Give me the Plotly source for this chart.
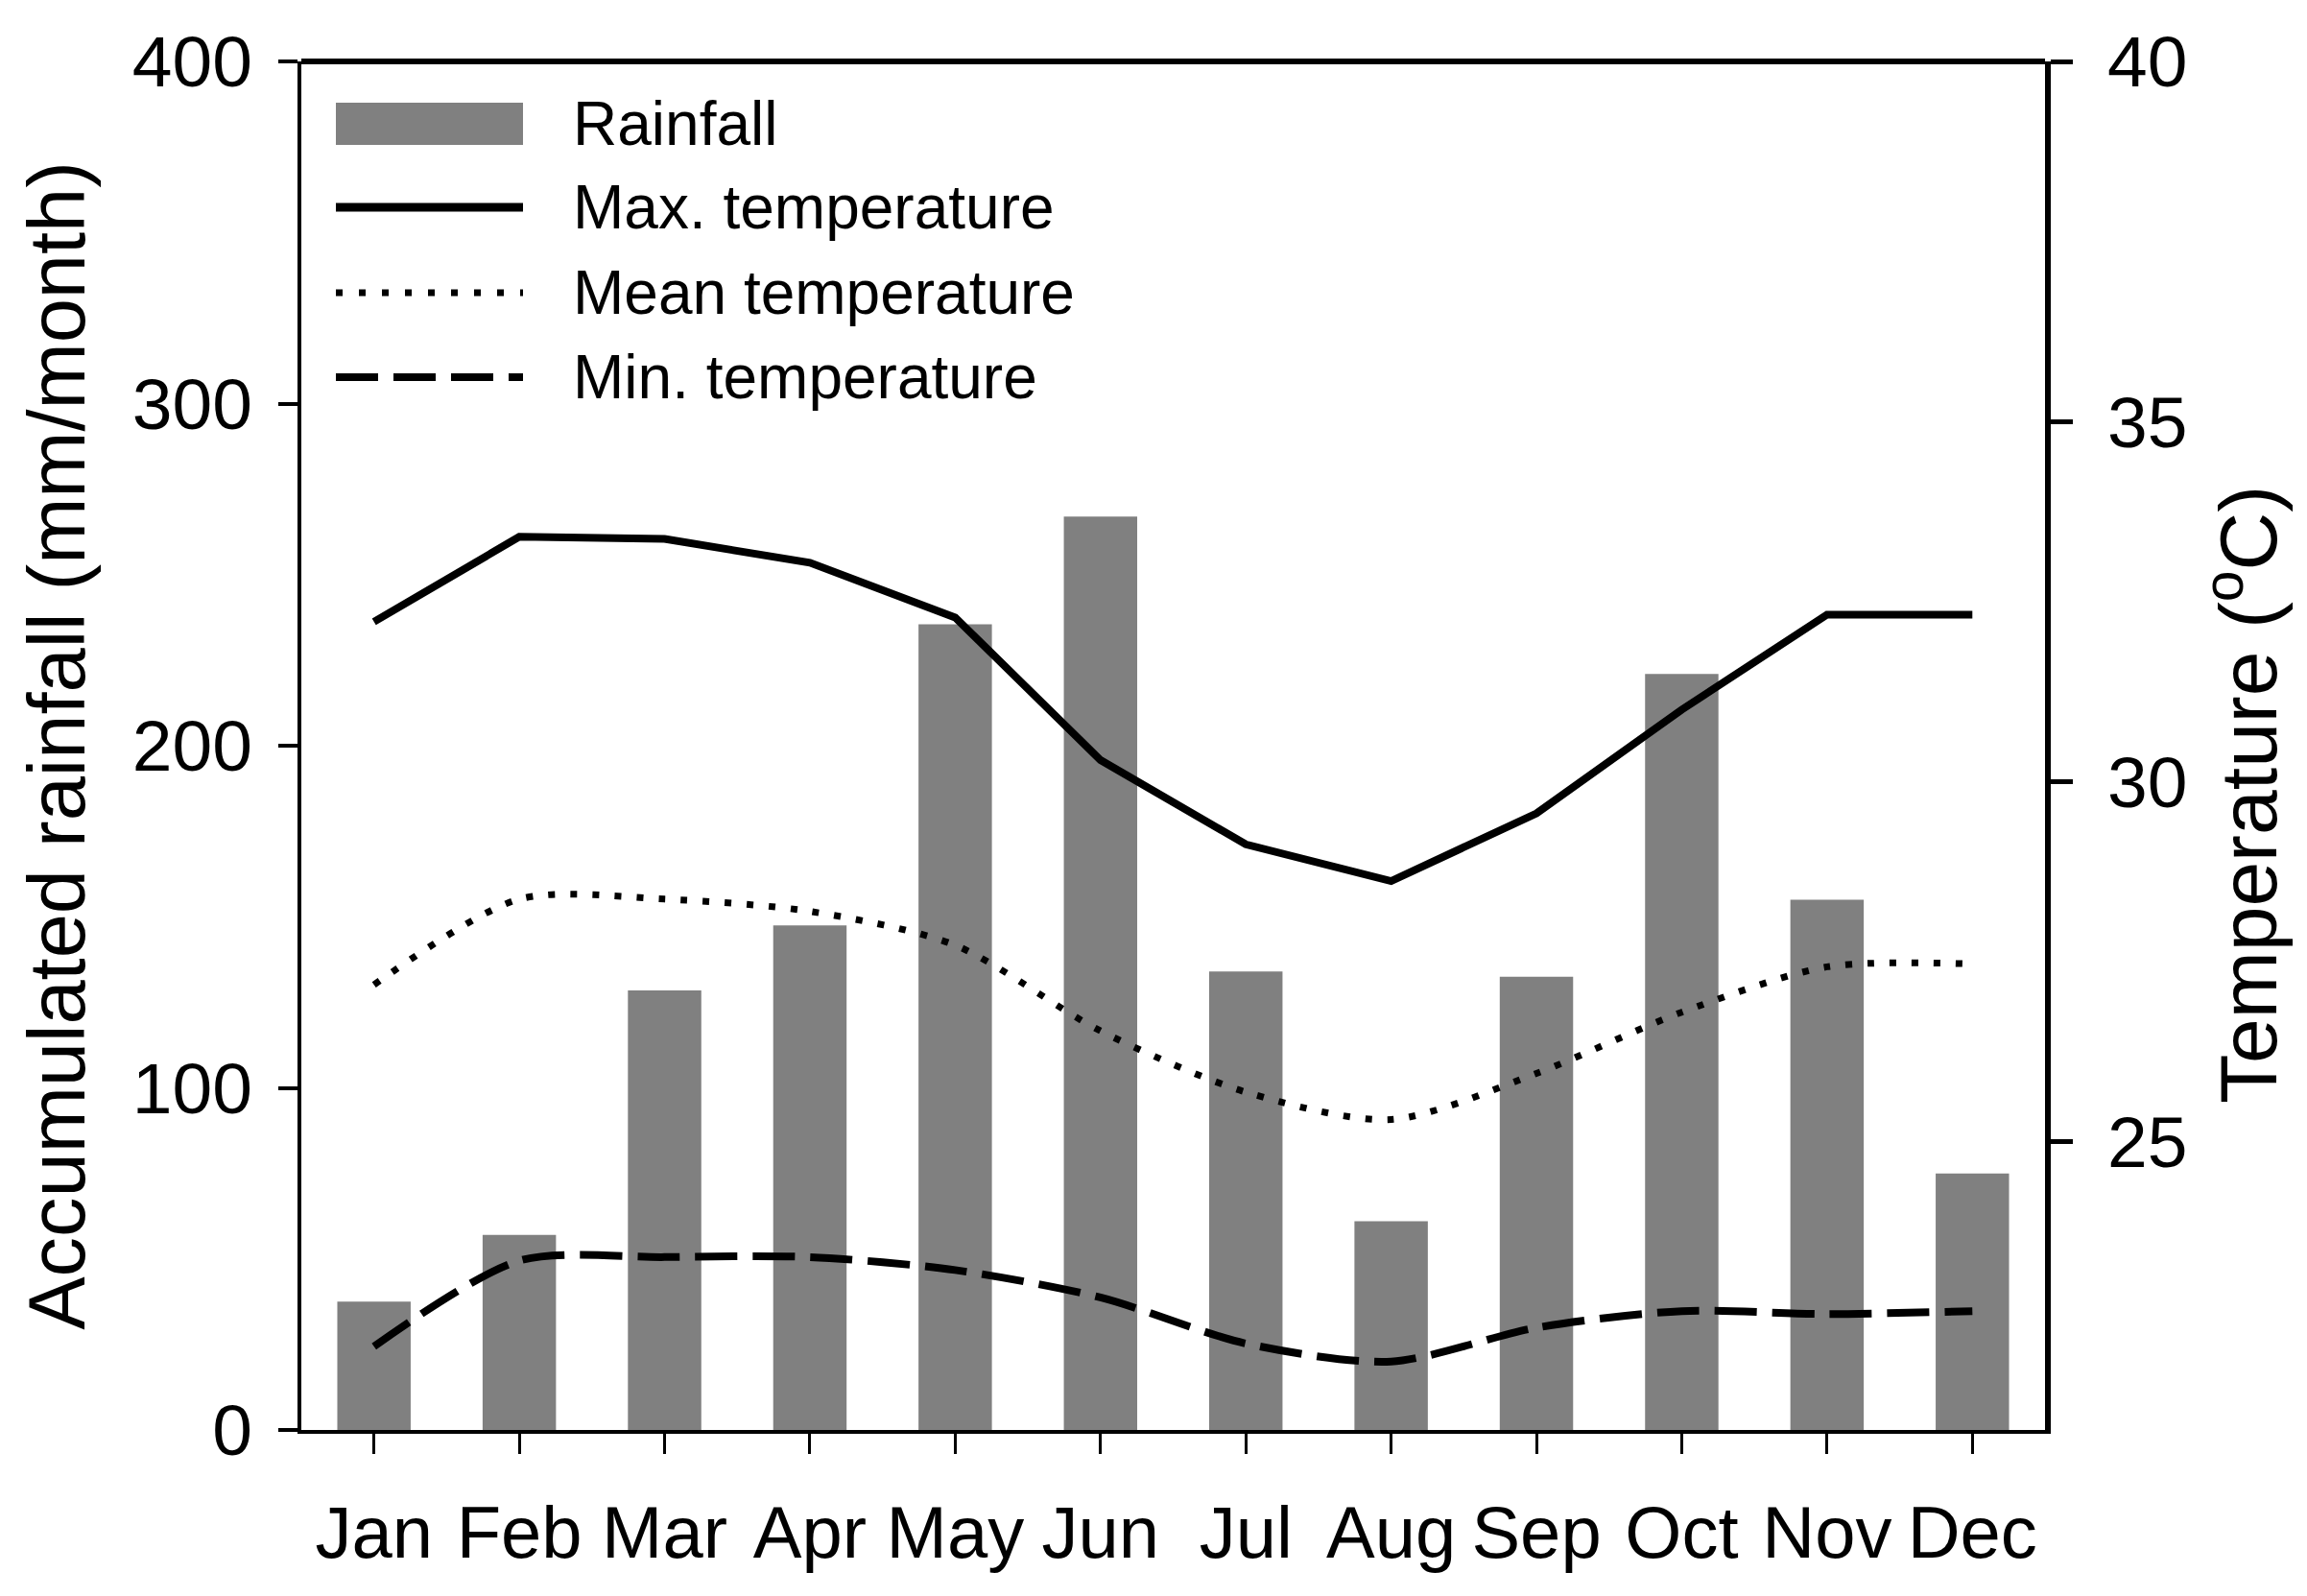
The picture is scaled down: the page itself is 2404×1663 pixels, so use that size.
import plotly.graph_objects as go

months = ["Jan", "Feb", "Mar", "Apr", "May", "Jun", "Jul", "Aug", "Sep", "Oct", "Nov", "Dec"]
rainfall = [37.5, 57, 128.5, 147.5, 235.5, 267, 134, 61, 132.5, 221, 155, 75]
max_temp = [32.22, 33.40, 33.37, 33.04, 32.28, 30.30, 29.13, 28.62, 29.56, 31.0, 32.32, 32.32]
mean_temp = [27.18, 28.37, 28.37, 28.20, 27.73, 26.54, 25.69, 25.31, 25.95, 26.8, 27.43, 27.47]
min_temp = [22.16, 23.35, 23.40, 23.40, 23.22, 22.84, 22.20, 21.95, 22.42, 22.65, 22.61, 22.65]

legend_labels = ["Rainfall", "Max. temperature", "Mean temperature", "Min. temperature"]
y_title = "Accumulated rainfall (mm/month)"
y2_title = "Temperature (<sup>o</sup>C)"

# the page body has an 8px margin, so the figure is drawn 8px smaller
W, H = 2388, 1647
L, T = 306, 56
PW, PH = 1817, 1426
R, B = W - L - PW, H - T - PH

FONT = "Liberation Sans, Arial, sans-serif"
GRAY = "#808080"

MAX_W, MEAN_W, MIN_W = 8, 7, 8
MEAN_DASH, MIN_DASH = "7px,16px", "44px,16px"


def px_x(x):
    return (x - L) / PW


def px_y(y):
    return (T + PH - y) / PH


fig = go.Figure()

fig.add_trace(go.Bar(x=months, y=rainfall, name=legend_labels[0], marker=dict(color=GRAY, line=dict(width=0)),
                     width=0.505, yaxis="y", showlegend=False))
fig.add_trace(go.Scatter(x=months, y=max_temp, name=legend_labels[1], mode="lines",
                         line=dict(color="black", width=MAX_W), yaxis="y2", showlegend=False))
fig.add_trace(go.Scatter(x=months, y=mean_temp, name=legend_labels[2], mode="lines",
                         line=dict(color="black", width=MEAN_W, dash=MEAN_DASH, shape="spline", smoothing=0.8),
                         yaxis="y2", showlegend=False))
fig.add_trace(go.Scatter(x=months, y=min_temp, name=legend_labels[3], mode="lines",
                         line=dict(color="black", width=MIN_W, dash=MIN_DASH, shape="spline", smoothing=0.8),
                         yaxis="y2", showlegend=False))

# manual legend (swatches + labels) in the top-left corner of the plot area
shapes = []
annotations = []
sw_x0, sw_x1, txt_x = 342, 537, 587
rows = [121, 208, 297, 385]
shapes.append(dict(type="rect", xref="paper", yref="paper", x0=px_x(sw_x0), x1=px_x(sw_x1),
                   y0=px_y(rows[0] + 22), y1=px_y(rows[0] - 22), fillcolor=GRAY, line=dict(width=0)))
dashes = ["solid", "7px,17px", "44px,16px"]
widths = [9, MEAN_W, MIN_W]
for i in range(1, 4):
    shapes.append(dict(type="line", xref="paper", yref="paper", x0=px_x(sw_x0), x1=px_x(sw_x1),
                       y0=px_y(rows[i]), y1=px_y(rows[i]),
                       line=dict(color="black", width=widths[i - 1], dash=dashes[i - 1])))
# thicker top frame line, as in the reference
shapes.append(dict(type="line", xref="paper", yref="paper", x0=0, x1=1, y0=1, y1=1,
                   line=dict(color="black", width=6)))
for i, lab in enumerate(legend_labels):
    annotations.append(dict(xref="paper", yref="paper", x=px_x(txt_x), y=px_y(rows[i]), text=lab,
                            showarrow=False, xanchor="left", yanchor="middle",
                            font=dict(family=FONT, size=64, color="black")))

# right-hand axis title (sits slightly below the middle of the axis in the reference)
annotations.append(dict(xref="paper", yref="paper", x=px_x(2329), y=px_y(820), text=y2_title,
                        textangle=-90, showarrow=False, xanchor="center", yanchor="middle",
                        font=dict(family=FONT, size=84, color="black")))

fig.update_layout(
    width=W, height=H,
    margin=dict(l=L, r=R, t=T, b=B, pad=0),
    paper_bgcolor="white", plot_bgcolor="white",
    font=dict(family=FONT, size=75, color="black"),
    xaxis=dict(
        type="category", range=[-0.5, 11.5],
        showline=True, linecolor="black", linewidth=4, mirror=False,
        ticks="outside", ticklen=21, tickwidth=3, tickcolor="black",
        ticklabelstandoff=17,
        showgrid=False, zeroline=False,
        tickfont=dict(family=FONT, size=76),
    ),
    yaxis=dict(
        title=dict(text=y_title, font=dict(family=FONT, size=83), standoff=23),
        range=[0, 400], dtick=100, tick0=0,
        showline=True, linecolor="black", linewidth=4,
        ticks="outside", ticklen=20, tickwidth=4, tickcolor="black",
        ticklabelstandoff=12,
        showgrid=False, zeroline=False,
        tickfont=dict(family=FONT, size=75),
    ),
    yaxis2=dict(
        overlaying="y", side="right",
        range=[21, 40], dtick=5, tick0=0,
        showline=True, linecolor="black", linewidth=6,
        ticks="outside", ticklen=23, tickwidth=5, tickcolor="black",
        ticklabelstandoff=21,
        showgrid=False, zeroline=False,
        tickfont=dict(family=FONT, size=75),
    ),
    shapes=shapes,
    annotations=annotations,
    showlegend=False,
)

fig.write_html("out.html")
